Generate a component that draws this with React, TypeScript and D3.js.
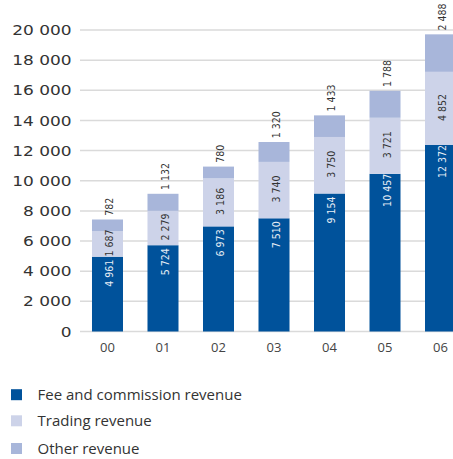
import React from "react";
import * as d3 from "d3";

const categories = ["00", "01", "02", "03", "04", "05", "06"];
const feeRevenue = [4961, 5724, 6973, 7510, 9154, 10457, 12372];
const tradingRevenue = [1687, 2279, 3186, 3740, 3750, 3721, 4852];
const otherRevenue = [782, 1132, 780, 1320, 1433, 1788, 2488];
const yTicks = [0, 2000, 4000, 6000, 8000, 10000, 12000, 14000, 16000, 18000, 20000];
const seriesNames = ["Fee and commission revenue", "Trading revenue", "Other revenue"];

const COLORS = ["#00529B", "#CDD3E9", "#A8B6DA"];
const W = 453;
const H = 459;

const fmt = (v: number) => d3.format(",")(v).replace(/,/g, " ");

export default function App() {
  const x = d3
    .scaleBand<string>()
    .domain(categories)
    .range([80, 468])
    .paddingInner(0.4414)
    .paddingOuter(0.216);
  const y = d3.scaleLinear().domain([0, 20000]).range([331.5, 30]);

  const rows = categories.map((c, i) => ({
    cat: c,
    fee: feeRevenue[i],
    trading: tradingRevenue[i],
    other: otherRevenue[i],
  }));
  const stack = d3.stack<any>().keys(["fee", "trading", "other"]);
  const layers = stack(rows);

  const labelFont = "'DejaVu Sans Condensed', 'DejaVu Sans', sans-serif";
  const legendY = [394.7, 420.8, 448.5];

  return (
    <svg
      width={W}
      height={H}
      style={{ position: "absolute", left: 0, top: 0, background: "#fff" }}
    >
      {/* gridlines */}
      {yTicks.map((t) => (
        <line
          key={"g" + t}
          x1={80}
          x2={W}
          y1={y(t)}
          y2={y(t)}
          stroke="#dadada"
          strokeWidth={1.5}
        />
      ))}
      {/* y tick labels */}
      {yTicks.map((t) => (
        <text
          key={"t" + t}
          transform={`translate(71.5,${y(t)}) scale(1.17,1)`}
          textAnchor="end"
          dominantBaseline="central"
          fontFamily="'DejaVu Sans', sans-serif"
          fontSize={14.5}
          fill="#333"
        >
          {fmt(t)}
        </text>
      ))}
      {/* bars */}
      {layers.map((layer, li) =>
        layer.map((d, i) => (
          <rect
            key={`b${li}-${i}`}
            x={x(categories[i])}
            y={y(d[1])}
            width={x.bandwidth()}
            height={y(d[0]) - y(d[1])}
            fill={COLORS[li]}
          />
        ))
      )}
      {/* value labels */}
      {layers.map((layer, li) =>
        layer.map((d, i) => {
          const cx = (x(categories[i]) as number) + x.bandwidth() / 2;
          const v = d[1] - d[0];
          let ty: number;
          let anchor: string;
          let color: string;
          if (li === 0) {
            ty = y(d[1]) + 16.5;
            anchor = "middle";
            color = "#e8eef5";
          } else if (li === 1) {
            ty = (y(d[0]) + y(d[1])) / 2 - 1;
            anchor = "middle";
            color = "#333";
          } else {
            ty = y(d[1]) - 3.8;
            anchor = "start";
            color = "#333";
          }
          return (
            <text
              key={`l${li}-${i}`}
              transform={`translate(${cx + 5.8},${ty}) rotate(-90)`}
              textAnchor={anchor}
              fontFamily={labelFont}
              fontStretch="condensed"
              fontSize={10.5}
              fill={color}
            >
              {fmt(v)}
            </text>
          );
        })
      )}
      {/* category labels */}
      {categories.map((c) => (
        <text
          key={"c" + c}
          x={(x(c) as number) + x.bandwidth() / 2}
          y={351.5}
          textAnchor="middle"
          fontFamily="'Open Sans', sans-serif"
          fontSize={13}
          fill="#444"
        >
          {c}
        </text>
      ))}
      {/* legend */}
      {seriesNames.map((n, i) => (
        <g key={"lg" + i}>
          <rect x={11} y={legendY[i] - 5.5} width={11} height={11} fill={COLORS[i]} />
          <text
            x={37.5}
            y={legendY[i] + 5.3}
            fontFamily="'Open Sans', sans-serif"
            fontSize={15}
            fill="#333"
          >
            {n}
          </text>
        </g>
      ))}
    </svg>
  );
}
